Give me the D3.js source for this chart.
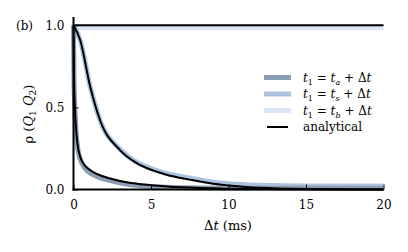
<!DOCTYPE html>
<meta charset="utf-8">
<style>
body { margin: 0; background: #fff; }
text { font-family: "DejaVu Serif", "Times New Roman", "Liberation Serif", serif; fill: #000; }
.band { fill: none; stroke-width: 5px; stroke-linejoin: round; }
.exact { fill: none; stroke: #000; stroke-width: 2px; }
</style>
<body>
<script src="https://d3js.org/d3.v7.min.js"></script>
<script>
// time grid (ms) and correlation values
var tSlow = [0, 0.43, 1.08, 1.72, 3, 4, 5, 6, 7.5, 9, 10, 12, 15, 20];
var slowExact = [1, 0.91, 0.625, 0.42, 0.24, 0.165, 0.12, 0.09, 0.06, 0.035, 0.025, 0.01, 0.003, 0];
var slowSim = [1, 0.91, 0.625, 0.42, 0.245, 0.17, 0.128, 0.098, 0.07, 0.045, 0.035, 0.026, 0.022, 0.022];

var tFast = [0, 0.03, 0.1, 0.2, 0.3, 0.43, 0.7, 1.08, 1.5, 2.37, 3.5, 5, 7, 10, 15, 20];
var fastExact = [1, 0.7, 0.48, 0.33, 0.25, 0.2, 0.15, 0.118, 0.095, 0.067, 0.042, 0.026, 0.013, 0.005, 0.001, 0];
var fastSim = [1, 0.68, 0.46, 0.31, 0.235, 0.185, 0.135, 0.1, 0.08, 0.055, 0.032, 0.018, 0.01, 0.008, 0.008, 0.008];

var tFlat = [0, 20];
var flatExact = [1, 1];
var flatSim = [0.985, 0.985];

var xTicks = [0, 5, 10, 15, 20];
var yTicks = [0, 0.5, 1.0];

var colA = "#8d9db3", colS = "#adc2dd", colB = "#dde6f3";
var serif = "'DejaVu Serif', 'Times New Roman', serif";

var W = 408, H = 252;
var x = d3.scaleLinear().domain([0, 20]).range([73.5, 383.5]);
var y = d3.scaleLinear().domain([0, 1.05]).range([189.5, 17]);

var svg = d3.select("body").append("svg")
    .attr("width", W)
    .attr("height", H);

function pts(ts, vs) {
    return ts.map(function(t, i) { return [t, vs[i]]; });
}

var line = d3.line()
    .x(function(d) { return x(d[0]); })
    .y(function(d) { return y(d[1]); })
    .curve(d3.curveMonotoneX);

// simulated bands
svg.append("path").attr("class", "band").attr("stroke", colB)
    .attr("d", line(pts(tFlat, flatSim)));
svg.append("path").attr("class", "band").attr("stroke", colS)
    .attr("d", line(pts(tSlow, slowSim)));
svg.append("path").attr("class", "band").attr("stroke", colA)
    .attr("d", line(pts(tFast, fastSim)));

// analytical curves
svg.append("path").attr("class", "exact").attr("d", line(pts(tFlat, flatExact)));
svg.append("path").attr("class", "exact").attr("d", line(pts(tSlow, slowExact)));
svg.append("path").attr("class", "exact").attr("d", line(pts(tFast, fastExact)));

// axes
var xAxis = svg.append("g")
    .attr("transform", "translate(0," + y(0) + ")")
    .call(d3.axisBottom(x).tickValues(xTicks).tickSize(-5).tickPadding(11).tickFormat(d3.format("d")));
var yAxis = svg.append("g")
    .attr("transform", "translate(" + x(0) + ",0)")
    .call(d3.axisLeft(y).tickValues(yTicks).tickSize(-5).tickPadding(9).tickFormat(d3.format(".1f")));

[xAxis, yAxis].forEach(function(g) {
    g.attr("font-family", null);
    g.select(".domain").attr("stroke", "#000").attr("stroke-width", 2);
    g.selectAll(".tick line").attr("stroke", "#000").attr("stroke-width", 1);
    g.selectAll(".tick text").style("font-family", serif).style("font-size", "12px");
});
xAxis.select(".domain").attr("d", "M" + (x(0) - 1) + ",0H" + x(20));
yAxis.select(".domain").attr("d", "M0," + y(1.05) + "V" + (y(0) + 1));

// axis labels
var xl = svg.append("text")
    .attr("x", 228).attr("y", 230)
    .attr("text-anchor", "middle")
    .style("font-size", "13px");
xl.append("tspan").text("Δ");
xl.append("tspan").style("font-style", "italic").text("t");
xl.append("tspan").text(" (ms)");

var yl = svg.append("text")
    .attr("transform", "translate(33,114) rotate(-90)")
    .attr("text-anchor", "middle")
    .style("font-size", "13px");
yl.append("tspan").text("ρ (");
yl.append("tspan").style("font-style", "italic").text("Q");
yl.append("tspan").attr("dy", 3).style("font-size", "9px").text("1");
yl.append("tspan").attr("dy", -3).text(" ");
yl.append("tspan").style("font-style", "italic").text("Q");
yl.append("tspan").attr("dy", 3).style("font-size", "9px").text("2");
yl.append("tspan").attr("dy", -3).text(")");

svg.append("text")
    .attr("x", 16).attr("y", 30)
    .style("font-size", "12px")
    .text("(b)");

// legend
var legSubs = ["a", "s", "b"];
var legCols = [colA, colS, colB];
var legY = [77.5, 94, 110.5, 127];

legSubs.forEach(function(s, i) {
    svg.append("rect")
        .attr("x", 264).attr("y", legY[i] - 2.5)
        .attr("width", 27).attr("height", 5)
        .attr("fill", legCols[i]);
    var t = svg.append("text")
        .attr("x", 303).attr("y", legY[i] + 4)
        .style("font-size", "12px");
    t.append("tspan").style("font-style", "italic").text("t");
    t.append("tspan").attr("dy", 3).style("font-size", "8px").text("1");
    t.append("tspan").attr("dy", -3).text(" = ");
    t.append("tspan").style("font-style", "italic").text("t");
    t.append("tspan").attr("dy", 3).style("font-size", "8px").style("font-style", "italic").text(s);
    t.append("tspan").attr("dy", -3).text(" + Δ");
    t.append("tspan").style("font-style", "italic").text("t");
});
svg.append("line")
    .attr("x1", 267).attr("x2", 288)
    .attr("y1", legY[3]).attr("y2", legY[3])
    .attr("stroke", "#000").attr("stroke-width", 2);
svg.append("text")
    .attr("x", 303).attr("y", legY[3] + 4)
    .style("font-size", "12px")
    .text("analytical");
</script>
</body>
